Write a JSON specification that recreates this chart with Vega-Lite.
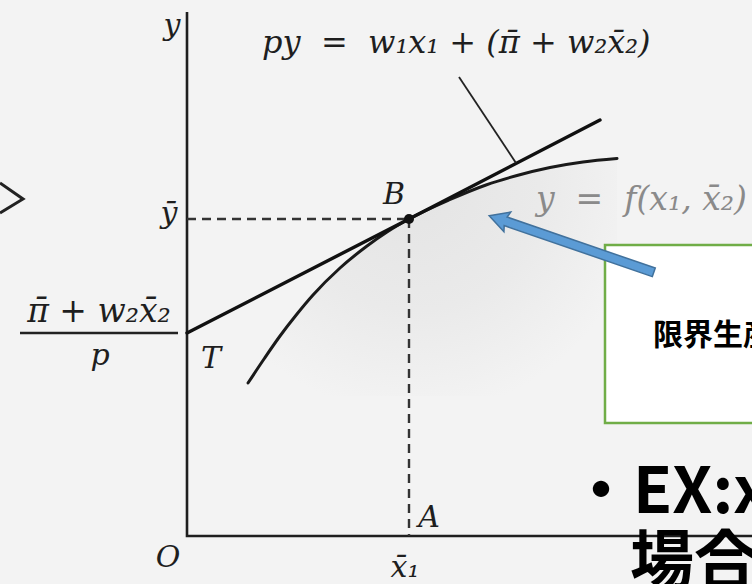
{
  "$schema": "https://vega.github.io/schema/vega-lite/v6.json",
  "width": 752,
  "height": 584,
  "padding": 0,
  "autosize": {"type": "none"},
  "background": "#f3f3f3",
  "config": {"view": {"stroke": null}},
  "datasets": {
    "production": [
      {"x": 61, "y": 153}, {"x": 77, "y": 177}, {"x": 93, "y": 200},
      {"x": 110, "y": 222}, {"x": 126, "y": 241}, {"x": 153, "y": 268},
      {"x": 180, "y": 290}, {"x": 200, "y": 304}, {"x": 222, "y": 317},
      {"x": 262, "y": 336}, {"x": 299, "y": 351}, {"x": 330, "y": 360.5},
      {"x": 363, "y": 368.5}, {"x": 396, "y": 374}, {"x": 430, "y": 377.5}
    ],
    "isoprofit": [
      {"x": 0, "y": 203}, {"x": 222, "y": 317}, {"x": 413, "y": 416}
    ],
    "axes": [
      {"i": 0, "x": 0, "y": 524}, {"i": 1, "x": 0, "y": 0}, {"i": 2, "x": 570, "y": 0}
    ],
    "guides": [
      {"x": 0, "y": 317, "x2": 222, "y2": 317},
      {"x": 222, "y": 317, "x2": 222, "y2": 0}
    ],
    "fracbar": [
      {"x": -167, "y": 203, "x2": -9, "y2": 203}
    ],
    "leader": [
      {"x": 272, "y": 459}, {"x": 329, "y": 373}
    ],
    "chevron": [
      {"i": 0, "x": -187, "y": 353}, {"i": 1, "x": -164, "y": 337}, {"i": 2, "x": -187, "y": 323}
    ],
    "pointB": [{"x": 222, "y": 317}],
    "callout": [{"x": 418, "y": 291, "x2": 620, "y2": 113}],
    "arrow": [{"x": 384.5, "y": 292}],
    "letters": [
      {"x": -15, "y": 510, "t": "y"},
      {"x": -18, "y": 322, "t": "ȳ"},
      {"x": 207, "y": 341, "t": "B"},
      {"x": 24, "y": 177, "t": "T"},
      {"x": -19, "y": -22, "t": "O"},
      {"x": 242, "y": 18, "t": "A"},
      {"x": 218, "y": -32, "t": "x̄₁"},
      {"x": -87, "y": 180, "t": "p"}
    ],
    "numerator": [{"x": -88, "y": 224, "t": "π̄ + w₂x̄₂"}],
    "equation": [{"x": 75, "y": 483, "t": "py\u00a0\u00a0=\u00a0\u00a0w₁x₁\u00a0+\u00a0(π̄\u00a0+\u00a0w₂x̄₂)"}],
    "curvelabel": [{"x": 349, "y": 336, "t": "y\u00a0\u00a0=\u00a0\u00a0f(x₁,\u00a0x̄₂)"}],
    "boxtext": [{"x": 466, "y": 200, "t": "限界生産力"}],
    "bigtext": [
      {"x": 382, "y": 23, "t": "・EX:x"},
      {"x": 443, "y": -47, "t": "場合"}
    ]
  },
  "encoding": {
    "x": {"field": "x", "type": "quantitative", "axis": null,
          "scale": {"domain": [-187, 565], "nice": false, "zero": false}},
    "y": {"field": "y", "type": "quantitative", "axis": null,
          "scale": {"domain": [-48, 536], "nice": false, "zero": false}}
  },
  "layer": [
    {
      "data": {"name": "production"},
      "mark": {"type": "area", "interpolate": "monotone",
               "color": {"gradient": "radial", "x1": 0.45, "y1": 0.25, "r1": 0, "x2": 0.45, "y2": 0.25, "r2": 0.62,
                         "stops": [{"offset": 0, "color": "#e4e4e4"}, {"offset": 0.55, "color": "#eaeaea"}, {"offset": 1, "color": "#f3f3f3"}]}},
      "encoding": {"y2": {"datum": 140}}
    },
    {
      "data": {"name": "chevron"},
      "mark": {"type": "line", "color": "#222", "strokeWidth": 3, "strokeJoin": "miter"},
      "encoding": {"order": {"field": "i"}}
    },
    {
      "data": {"name": "axes"},
      "mark": {"type": "line", "color": "#1e1e1e", "strokeWidth": 2.6, "clip": true},
      "encoding": {"order": {"field": "i"}}
    },
    {
      "data": {"name": "guides"},
      "mark": {"type": "rule", "color": "#333", "strokeWidth": 2.4, "strokeDash": [9, 6]},
      "encoding": {"x2": {"field": "x2"}, "y2": {"field": "y2"}}
    },
    {
      "data": {"name": "fracbar"},
      "mark": {"type": "rule", "color": "#222", "strokeWidth": 2.4},
      "encoding": {"x2": {"field": "x2"}, "y2": {"field": "y2"}}
    },
    {
      "data": {"name": "production"},
      "mark": {"type": "line", "interpolate": "monotone", "color": "#1a1a1a", "strokeWidth": 3, "strokeCap": "round"}
    },
    {
      "data": {"name": "isoprofit"},
      "mark": {"type": "line", "color": "#111", "strokeWidth": 3.4, "strokeCap": "round"}
    },
    {
      "data": {"name": "leader"},
      "mark": {"type": "line", "color": "#222", "strokeWidth": 1.8}
    },
    {
      "data": {"name": "pointB"},
      "mark": {"type": "point", "shape": "circle", "filled": true, "color": "#111", "size": 100, "opacity": 1}
    },
    {
      "data": {"name": "callout"},
      "mark": {"type": "rect", "fill": "#ffffff", "stroke": "#70ad47", "strokeWidth": 2.5, "clip": true},
      "encoding": {"x2": {"field": "x2"}, "y2": {"field": "y2"}}
    },
    {
      "data": {"name": "arrow"},
      "mark": {"type": "point", "filled": true, "opacity": 1, "fill": "#5b9bd5", "stroke": "#41719c", "strokeWidth": 1.5,
               "size": 30300, "angle": 289,
               "shape": "M0,-1 L0.12,-0.78 L0.052,-0.8 L0.052,1 L-0.052,1 L-0.052,-0.8 L-0.12,-0.78 Z"}
    },
    {
      "data": {"name": "letters"},
      "mark": {"type": "text", "font": "DejaVu Serif", "fontStyle": "italic", "fontSize": 30,
               "color": "#1e1e1e", "align": "center", "baseline": "middle"},
      "encoding": {"text": {"field": "t"}}
    },
    {
      "data": {"name": "numerator"},
      "mark": {"type": "text", "font": "DejaVu Serif", "fontStyle": "italic", "fontSize": 33,
               "color": "#1e1e1e", "align": "center", "baseline": "middle"},
      "encoding": {"text": {"field": "t"}}
    },
    {
      "data": {"name": "equation"},
      "mark": {"type": "text", "font": "DejaVu Serif", "fontStyle": "italic", "fontSize": 32,
               "color": "#1e1e1e", "align": "left", "baseline": "alphabetic"},
      "encoding": {"text": {"field": "t"}}
    },
    {
      "data": {"name": "curvelabel"},
      "mark": {"type": "text", "font": "DejaVu Serif", "fontStyle": "italic", "fontSize": 33,
               "color": "#8a8a8a", "align": "left", "baseline": "middle"},
      "encoding": {"text": {"field": "t"}}
    },
    {
      "data": {"name": "boxtext"},
      "mark": {"type": "text", "font": "Noto Sans CJK JP", "fontWeight": "bold", "fontSize": 30,
               "color": "#000", "align": "left", "baseline": "middle", "clip": true},
      "encoding": {"text": {"field": "t"}}
    },
    {
      "data": {"name": "bigtext"},
      "mark": {"type": "text", "font": "Noto Sans CJK JP", "fontWeight": "bold", "fontSize": 64,
               "color": "#000", "align": "left", "baseline": "alphabetic"},
      "encoding": {"text": {"field": "t"}}
    }
  ]
}
